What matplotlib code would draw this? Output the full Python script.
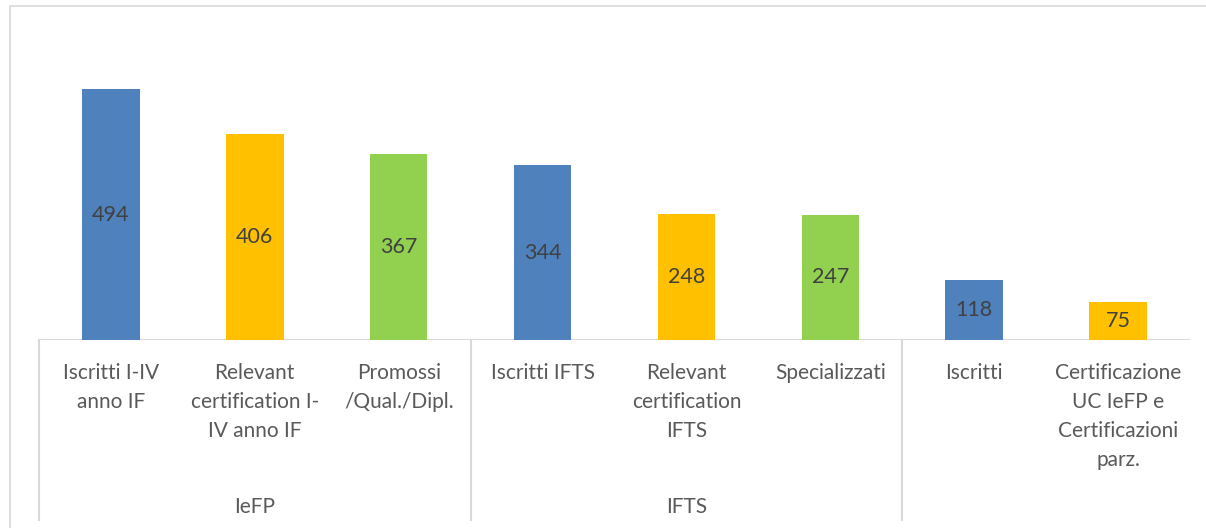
import matplotlib
matplotlib.use("Agg")
import matplotlib.pyplot as plt
from matplotlib.patches import Rectangle

categories = [
    "Iscritti I-IV\nanno IF",
    "Relevant\ncertification I-\nIV anno IF",
    "Promossi\n/Qual./Dipl.",
    "Iscritti IFTS",
    "Relevant\ncertification\nIFTS",
    "Specializzati",
    "Iscritti",
    "Certificazione\nUC IeFP e\nCertificazioni\nparz.",
]
values = [494, 406, 367, 344, 248, 247, 118, 75]
groups = ["IeFP", "IFTS", ""]
group_sizes = [3, 3, 2]

blue, gold, green = "#4F81BD", "#FFC000", "#92D050"
bar_colors = [blue, gold, green, blue, gold, green, blue, gold]
text_color = "#595959"
line_color = "#D9D9D9"

plt.rcParams["font.family"] = ["Lato", "DejaVu Sans"]
FS = 15

W, H = 1206, 528
fig = plt.figure(figsize=(W / 100, H / 100), dpi=100)

# chart frame
fig.patches.append(Rectangle((10 / W, -0.1), 1.2, (H - 6) / H + 0.1,
                             transform=fig.transFigure, fill=False,
                             edgecolor=line_color, linewidth=1.2))

ax_left, ax_right = 39, 1190
ax_base, ax_top = 340, 20
ax = fig.add_axes([ax_left / W, (H - ax_base) / H,
                   (ax_right - ax_left) / W, (ax_base - ax_top) / H])
ax_h = ax_base - ax_top

x = list(range(len(values)))
ax.bar(x, values, width=0.4, color=bar_colors, zorder=2)
ax.set_xlim(-0.5, len(values) - 0.5)
ax.set_ylim(0, ax_h / 0.508)

for xi, v in zip(x, values):
    ax.text(xi, v / 2, str(v), ha="center", va="center",
            fontsize=FS + 0.5, color="#404040", zorder=3)

for s in ax.spines.values():
    s.set_visible(False)
ax.set_xticks([])
ax.set_yticks([])
ax.axhline(0, color=line_color, linewidth=1.5, zorder=1)

xt = ax.get_xaxis_transform()
for xi, lab in zip(x, categories):
    ax.text(xi, -23 / ax_h, lab, transform=xt, ha="center", va="top",
            fontsize=FS, color=text_color, linespacing=1.56, clip_on=False)

# group separators and group labels
bottom = -(520 - ax_base) / ax_h
start = 0
for g, n in zip(groups, group_sizes):
    sep = start - 0.5
    ax.plot([sep, sep], [0, bottom], transform=xt, color=line_color,
            linewidth=1.5, clip_on=False)
    if g:
        ax.text(start + (n - 1) / 2, -(507 - ax_base) / ax_h, g, transform=xt,
                ha="center", va="center", fontsize=FS, color=text_color,
                clip_on=False)
    start += n

fig.savefig("out.png", dpi=100, facecolor="white")
